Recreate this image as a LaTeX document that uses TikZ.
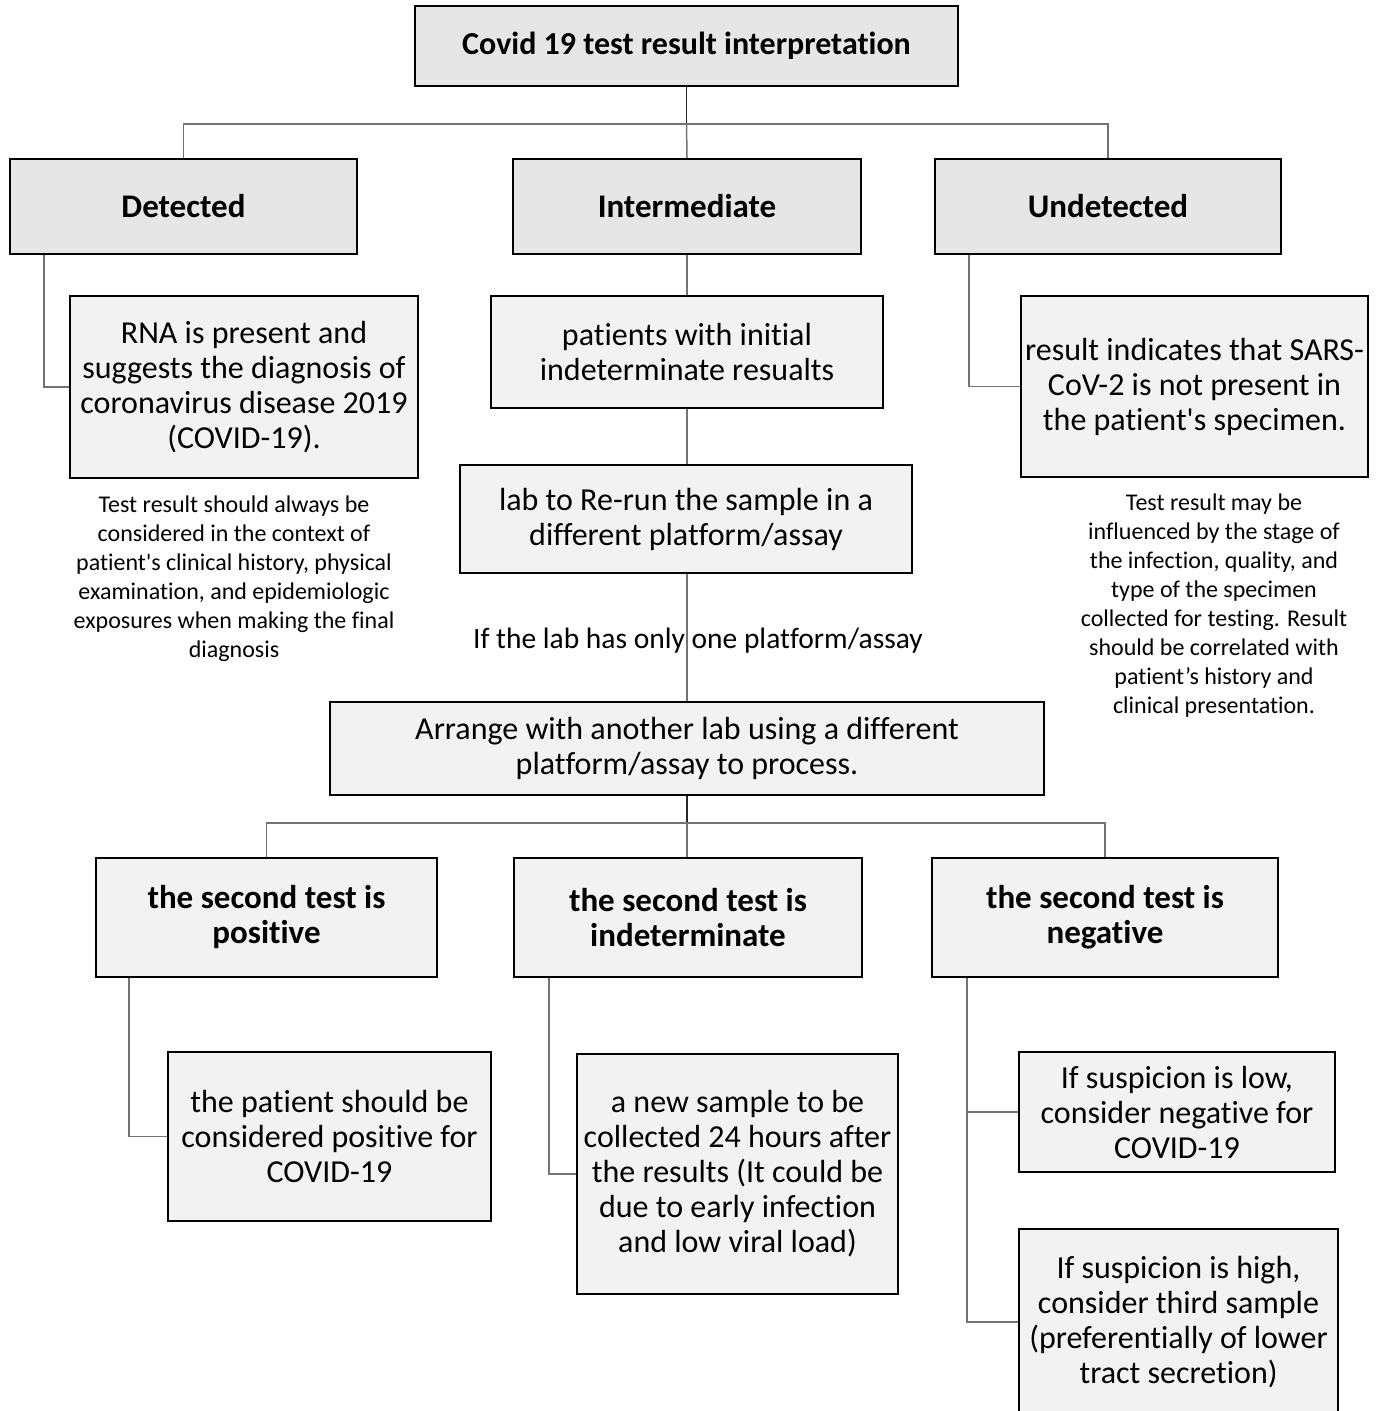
\documentclass[tikz,border=0pt]{standalone}
\usepackage{fontspec}
\setmainfont{Carlito}[Ligatures={TeX,NoCommon}]
\usepackage{tikz}
\usetikzlibrary{calc}
\definecolor{boxdark}{HTML}{E6E6E6}
\definecolor{boxlight}{HTML}{F2F2F2}
\newcommand\boxfont{\fontsize{32}{35}\selectfont}
\newcommand\headfont{\fontsize{33}{35}\selectfont}
\newcommand\titlefont{\fontsize{32}{35}\selectfont}
\newcommand\labelfont{\fontsize{29.5}{35}\selectfont}
\newcommand\notefont{\fontsize{24}{29}\selectfont}
\tikzset{
  sz/.style 2 args={minimum width=#1pt, minimum height=#2pt},
  lvlbox/.style={draw=black, line width=2pt, fill=boxdark, inner sep=0pt,
    align=center, font=\headfont\bfseries},
  subbox/.style={draw=black, line width=2pt, fill=boxlight, inner sep=0pt,
    align=center, font=\boxfont},
  testbox/.style={subbox, font=\headfont\bfseries},
  note/.style={align=center, inner sep=0pt, font=\notefont},
  link/.style={draw=black!55, line width=1.5pt},
  trunk/.style={draw=black!85, line width=1.5pt}
}
\begin{document}
\begin{tikzpicture}[x=1pt, y=-1pt]
      \useasboundingbox (0,0) rectangle (1379,1411);
      \clip (0,0) rectangle (1379,1411);

      \node[lvlbox, sz={543}{80}, font=\titlefont\bfseries] (title) at (686.5,46) {Covid 19 test result interpretation};
      \node[lvlbox, sz={347}{95}]  (det) at (183.5,206.5) {Detected};
      \node[lvlbox, sz={348}{95}]  (int) at (687,206.5) {Intermediate};
      \node[lvlbox, sz={346}{95}]  (und) at (1108,206.5) {Undetected};

      \node[subbox, sz={348}{182}] (rna) at (244,387)
        {RNA is present and\\suggests the diagnosis of\\coronavirus disease 2019\\(COVID-19).};
      \node[subbox, sz={392}{112}] (pat) at (687,352)
        {patients with initial\\indeterminate resualts};
      \node[subbox, sz={347}{181}] (sars) at (1194.5,386.5)
        {result indicates that SARS-\\CoV-2 is not present in\\the patient\textquotesingle s specimen.};

      \node[note] (detnote) at (234,579)
        {Test result should always be\\considered in the context of\\patient\textquotesingle s clinical history, physical\\examination, and epidemiologic\\exposures when making the final\\diagnosis};
      \node[note] (undnote) at (1214,605.5)
        {Test result may be\\influenced by the stage of\\the infection, quality, and\\type of the specimen\\collected for testing. Result\\should be correlated with\\patient’s history and\\clinical presentation.};

      \node[subbox, sz={452}{108}] (lab) at (686,519)
        {lab to Re-run the sample in a\\different platform/assay};
      \node[subbox, sz={714}{93}]  (arr) at (687,748.5)
        {Arrange with another lab using a different\\platform/assay to process.};

      \node[testbox, sz={341}{119}] (pos) at (266.5,917.5) {the second test is\\positive};
      \node[testbox, sz={348}{119}] (ind) at (688,917.5) {the second test is\\indeterminate};
      \node[testbox, sz={346}{119}] (neg) at (1105,917.5) {the second test is\\negative};

      \node[subbox, sz={323}{169}] (posres) at (329.5,1136.5)
        {the patient should be\\considered positive for\\COVID-19};
      \node[subbox, sz={321}{240}] (indres) at (737.5,1174)
        {a new sample to be\\collected 24 hours after\\the results (It could be\\due to early infection\\and low viral load)};
      \node[subbox, sz={316}{120}] (neglow) at (1177,1112)
        {If suspicion is low,\\consider negative for\\COVID-19};
      \node[subbox, sz={319}{186}] (neghigh) at (1178.5,1322)
        {If suspicion is high,\\consider third sample\\(preferentially of lower\\tract secretion)};

      \coordinate (busA) at (title.south |- 0,124);
      \coordinate (busB) at (arr.south |- 0,823);

      \draw[trunk] (title.south) -- (busA);
      \draw[link] (det.north) |- (busA) -| (und.north);
      \draw[link] (busA) -- (int.north);
      \draw[link] ([xshift=35pt]det.south west) |- (rna.west);
      \draw[link] (int.south) -- (pat.north);
      \draw[link] ([xshift=35pt]und.south west) |- (sars.west);
      \draw[link] (pat.south) -- (lab.north -| pat.south);
      \draw[link] (lab.south -| arr.north) -- (arr.north);
      \node[font=\labelfont, inner sep=0pt] (onlyone) at (698,641) {If the lab has only one platform/assay};

      \draw[trunk] (arr.south) -- (busB);
      \draw[link] (pos.north) |- (busB) -| (neg.north);
      \draw[link] (busB) -- (ind.north -| busB);
      \draw[link] ([xshift=34pt]pos.south west) |- (posres.west);
      \draw[link] ([xshift=36pt]ind.south west) |- (indres.west);
      \draw[link] ([xshift=36pt]neg.south west) |- (neglow.west);
      \draw[link] ([xshift=36pt]neg.south west) |- (neghigh.west);
\end{tikzpicture}
\end{document}
